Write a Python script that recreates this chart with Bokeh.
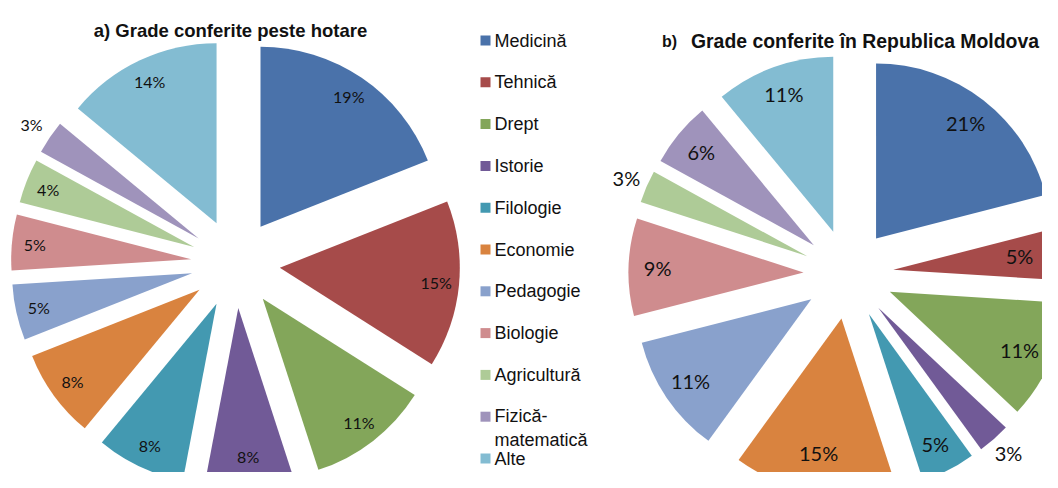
import math
from bokeh.plotting import figure
from bokeh.models import Range1d, ColumnDataSource
from bokeh.embed import file_html
from bokeh.resources import INLINE
from bokeh.core.properties import value

# ---------------- data ----------------
categories = ["Medicină", "Tehnică", "Drept", "Istorie", "Filologie", "Economie",
              "Pedagogie", "Biologie", "Agricultură", "Fizică-matematică", "Alte"]
abroad = [19, 15, 11, 8, 8, 8, 5, 5, 4, 3, 14]      # a) Grade conferite peste hotare (%)
moldova = [21, 5, 11, 3, 5, 15, 11, 9, 3, 6, 11]    # b) Grade conferite în Republica Moldova (%)
colors = ["#4A72AA", "#A64B4A", "#83A65A", "#715A97", "#4399B1", "#D9833F",
          "#89A1CC", "#CF8C8E", "#AECB97", "#9F93BB", "#83BCD2"]
title_a = "a) Grade conferite peste hotare"
title_b_prefix = "b)"
title_b = "Grade conferite în Republica Moldova"

# ---------------- figure ----------------
W, H = 1042, 472
p = figure(width=W, height=H, x_range=Range1d(0, W), y_range=Range1d(0, H),
           output_backend="svg", toolbar_location=None, min_border=0)
p.axis.visible = False
p.grid.visible = False
p.outline_line_color = None
p.background_fill_color = "white"


def pie(vals, cx, cy, r, explode, r_in, r_out, font_size):
    total = float(sum(vals))
    cum = 0.0
    wx, wy, st, en, lx, ly, lt = [], [], [], [], [], [], []
    for v in vals:
        a0 = cum / total
        a1 = (cum + v) / total
        cum += v
        start = math.pi / 2 - 2 * math.pi * a1
        end = math.pi / 2 - 2 * math.pi * a0
        mid = (start + end) / 2
        ox = cx + explode * math.cos(mid)
        oy = cy + explode * math.sin(mid)
        wx.append(ox); wy.append(oy); st.append(start); en.append(end)
        rr = r_out if v <= 3 else r_in
        tx = ox + rr * math.cos(mid)
        ty = oy + rr * math.sin(mid)
        # keep the label inside the drawing area
        tx = min(tx, W - 1.15 * font_size)
        ty = max(ty, 1.0 * font_size)
        lx.append(tx)
        ly.append(ty)
        lt.append(f"{v}%")
    src = ColumnDataSource(dict(x=wx, y=wy, start=st, end=en, color=colors))
    p.wedge(x="x", y="y", radius=r, start_angle="start", end_angle="end",
            fill_color="color", line_color=None, source=src)
    p.text(x=lx, y=ly, text=lt, text_font=value("Lato"), text_font_size=f"{font_size}px",
           text_align="center", text_baseline="middle", text_color="#111111")


# left pie: centre, radius, explosion
pie(abroad, 235, 209, 180, 44.5, 157, 202, 16)
# right pie
pie(moldova, 848, 198.5, 175, 45, 146, 197, 20)

# titles
p.text(x=[230], y=[442], text=[title_a], text_font=value("Liberation Sans"),
       text_font_style="bold", text_font_size="18.5px", text_align="center",
       text_baseline="alphabetic", text_color="#111111")
p.text(x=[669], y=[431], text=[title_b_prefix], text_font=value("Liberation Sans"),
       text_font_style="bold", text_font_size="16px", text_align="center",
       text_baseline="alphabetic", text_color="#111111")
p.text(x=[864.5], y=[432], text=[title_b], text_font=value("Liberation Sans"),
       text_font_style="bold", text_font_size="19.4px", text_align="center",
       text_baseline="alphabetic", text_color="#111111")

# legend
row0, step = 432, 41.8
ly = [row0 - i * step for i in range(len(categories))]
labels = [c.replace("-", "-\n") for c in categories]
ty = [y - (lab.count("\n")) * 10.8 for y, lab in zip(ly, labels)]
p.scatter(x=[485] * len(categories), y=ly, marker="square", size=10,
          fill_color=colors, line_color=None)
p.text(x=[494] * len(categories), y=ty, text=labels, text_font=value("Liberation Sans"),
       text_font_size="18px", text_align="left", text_baseline="middle",
       text_color="#111111", text_line_height=1.2)

open("out.html", "w").write(file_html(p, INLINE))
